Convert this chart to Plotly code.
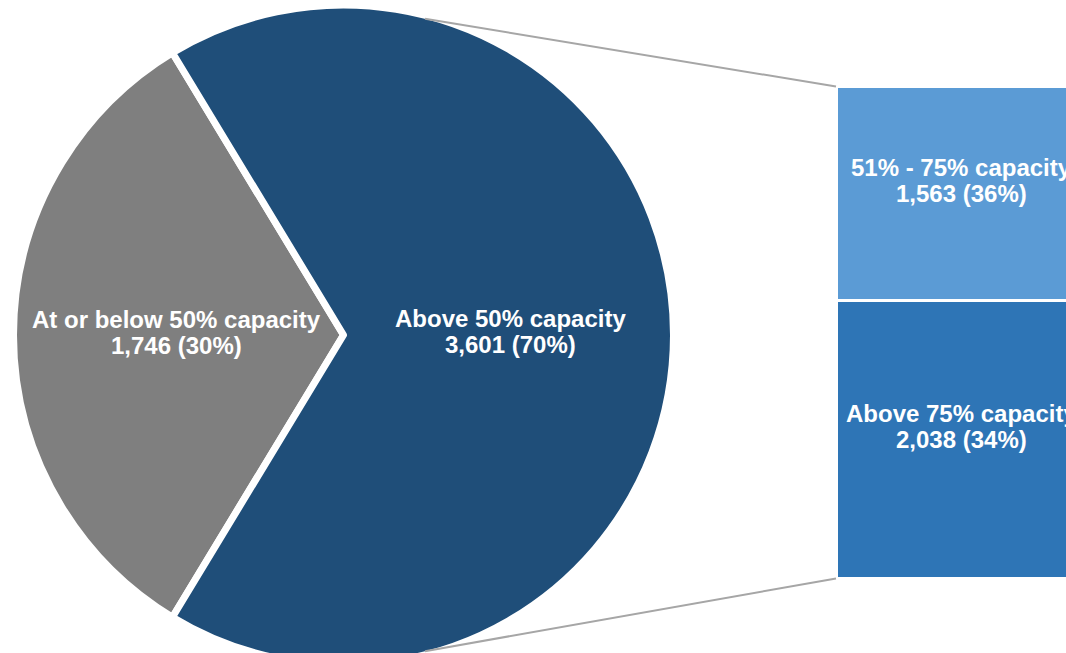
import math
import plotly.graph_objects as go

# ---- data ----
pie_labels = ["At or below 50% capacity", "Above 50% capacity"]
pie_values = [1746, 3601]
pie_pct = ["30%", "70%"]
pie_colors = ["#7F7F7F", "#1F4E79"]

bar_labels = ["Above 75% capacity", "51% - 75% capacity"]
bar_values = [2038, 1563]
bar_pct = ["34%", "36%"]
bar_colors = ["#2E75B6", "#5B9BD5"]

# ---- layout constants (pixels) ----
W, H = 1066, 665
FONT = "Liberation Sans, Arial, sans-serif"
FS = 24
LINE_GAP = 26
line_w = 7
bar_line_w = 3

fig = go.Figure()

# ---- pie ----
cx_pix, cy_pix, r_pix = 343.5, 335.0, 330.0
pie_dom_x = [(cx_pix - r_pix) / W, (cx_pix + r_pix) / W]
pie_dom_y = [max(0.0, 1 - (cy_pix + r_pix) / H), 1 - (cy_pix - r_pix) / H]
total = sum(pie_values)
first_deg = pie_values[0] / total * 360
rotation = 270 - first_deg / 2  # centre the first slice at 9 o'clock

fig.add_trace(go.Pie(
    labels=pie_labels,
    values=pie_values,
    sort=False,
    direction="counterclockwise",
    rotation=rotation,
    marker=dict(colors=pie_colors, line=dict(color="white", width=line_w)),
    textinfo="none",
    hoverinfo="skip",
    domain=dict(x=pie_dom_x, y=pie_dom_y),
    showlegend=False,
))
r_vis = r_pix - line_w / 2

annotations = []


def two_line(x, y, xref, yref, l1, l2, up_shift=0.0):
    for t, dy in [(l1, -LINE_GAP / 2), (l2, LINE_GAP / 2)]:
        annotations.append(dict(
            x=x, y=y, xref=xref, yref=yref,
            text=f"<b>{t}</b>", showarrow=False,
            font=dict(family=FONT, size=FS, color="white"),
            xanchor="center", yanchor="middle", align="center",
            yshift=-dy + up_shift,
        ))


# pie labels at the middle of each slice
ang = rotation
for lab, v, p in zip(pie_labels, pie_values, pie_pct):
    span = v / total * 360
    mid = math.radians(ang + span / 2)
    rr = 0.51 * r_vis
    px = cx_pix + rr * math.sin(mid)
    py = cy_pix - rr * math.cos(mid) - 3
    two_line(px / W, 1 - py / H, "paper", "paper", lab, f"{v:,} ({p})")
    ang += span

# ---- stacked bar (outer geometry widened by half the white outline) ----
half = bar_line_w / 2
bar_left_pix = 838 - half
bar_full_w = 246 + 2 * half
bar_top_pix, bar_bot_pix = 88 - half, 577 + half
bar_total = sum(bar_values)
scale = (bar_bot_pix - bar_top_pix) / bar_total
ymin = -(H - bar_bot_pix) / scale
ymax = ymin + H / scale

base = 0
for lab, v, p, c in zip(bar_labels, bar_values, bar_pct, bar_colors):
    fig.add_trace(go.Bar(
        x=[0], y=[v], width=[1],
        marker=dict(color=c, line=dict(color="white", width=bar_line_w)),
        hoverinfo="skip", showlegend=False,
        xaxis="x", yaxis="y",
    ))
    two_line(0, base + v / 2, "x", "y", lab, f"{v:,} ({p})", up_shift=12.5)
    base += v

xdom0 = bar_left_pix / W
vis_w = W - bar_left_pix
fig.update_layout(
    barmode="stack",
    width=W, height=H,
    margin=dict(l=0, r=0, t=0, b=0),
    paper_bgcolor="white", plot_bgcolor="rgba(0,0,0,0)",
    xaxis=dict(domain=[xdom0, 1], range=[-0.5, -0.5 + vis_w / bar_full_w],
               visible=False, fixedrange=True),
    yaxis=dict(domain=[0, 1], range=[ymin, ymax], visible=False, fixedrange=True),
    annotations=annotations,
    font=dict(family=FONT),
)

# ---- connector lines from pie edge to bar corners ----
def circle_y(xp, upper=True):
    dx = xp - cx_pix
    dy = math.sqrt(max(r_vis ** 2 - dx ** 2, 0))
    return cy_pix - dy if upper else cy_pix + dy


x_start = 425
for val, upper in [(bar_total, True), (0, False)]:
    y_end = (val - ymin) / (ymax - ymin)
    y_beg = 1 - circle_y(x_start, upper) / H
    fig.add_shape(type="line", xref="paper", yref="paper",
                  x0=x_start / W, y0=y_beg, x1=(838 - 2) / W, y1=y_end,
                  line=dict(color="#A6A6A6", width=2))

post = ("document.documentElement.style.overflow='hidden';"
        "document.body.style.margin='0';document.body.style.overflow='hidden';")
fig.write_html("out.html", config={"displayModeBar": False}, post_script=post)
